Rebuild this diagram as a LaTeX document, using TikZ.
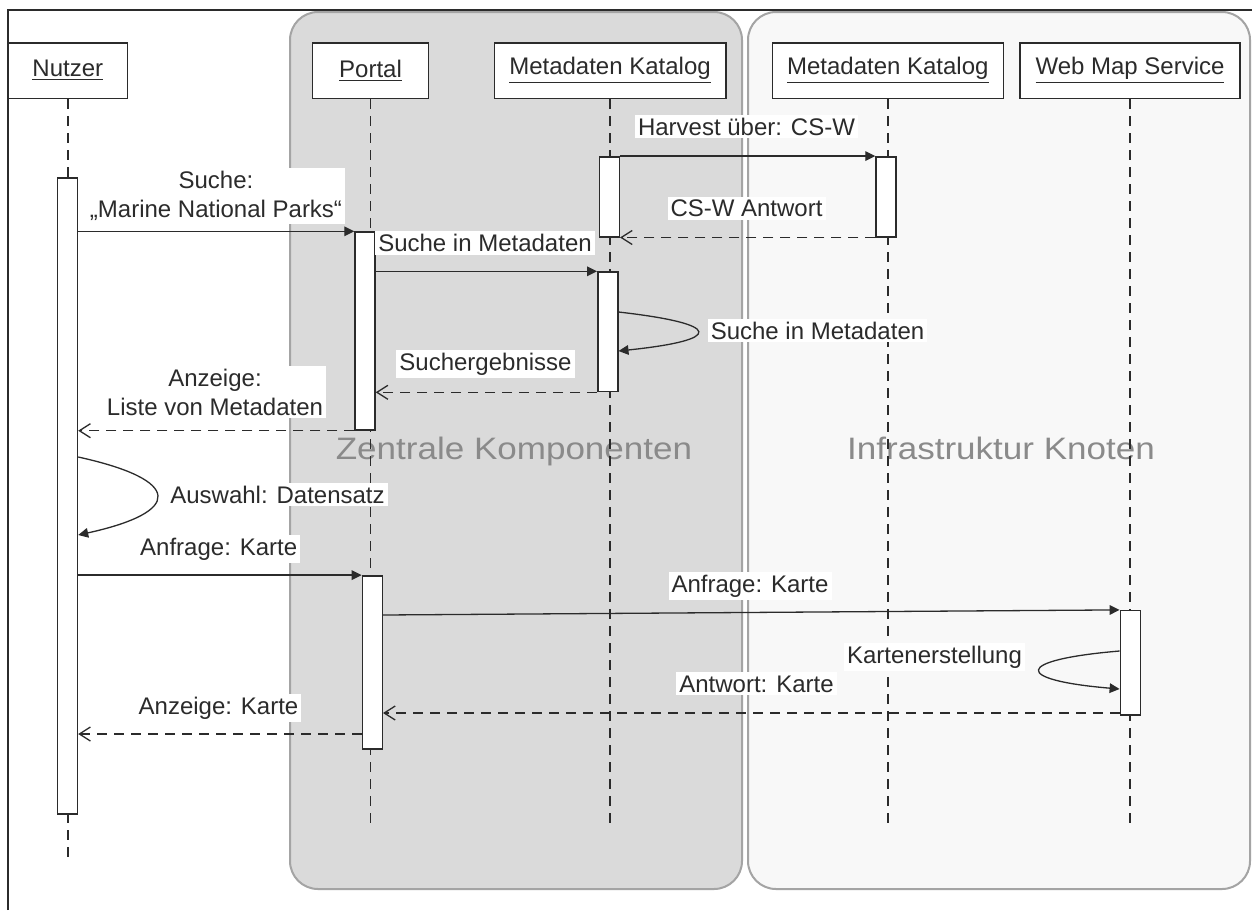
\documentclass[tikz,border=0pt]{standalone}
\usepackage{fontspec}
\usepackage{graphicx}
\setmainfont{Liberation Sans}
\usetikzlibrary{arrows.meta}
\definecolor{panelA}{HTML}{DADADA}
\definecolor{panelB}{HTML}{F8F8F8}
\definecolor{panelline}{HTML}{A4A4A4}
\definecolor{ink}{HTML}{2B2B2B}
\definecolor{bgtext}{HTML}{8A8A8A}
\begin{document}
\begin{tikzpicture}[x=0.5pt,y=-0.5pt,
  every node/.style={font=\fontsize{12}{14}\selectfont, text=ink},
  head/.style={draw=ink, line width=0.8pt, fill=white, minimum height=27.8pt, inner sep=0pt},
  lifeline/.style={draw=ink, line width=0.75pt, dash pattern=on 5pt off 3.5pt},
  actbar/.style={draw=ink, line width=0.7pt, fill=white, minimum width=10pt, inner sep=0pt},
  syncmsg/.style={draw=ink, line width=0.65pt, -{Triangle[length=5pt,width=4.8pt]}},
  retmsg/.style={draw=ink, line width=0.65pt, dash pattern=on 5pt off 3.5pt, -{Straight Barb[length=5.5pt,width=7pt]}},
  msglabel/.style={fill=white, inner sep=1.5pt},
  bglabel/.style={font=\fontsize{15.5}{18}\selectfont, text=bgtext, inner sep=0pt}]
\useasboundingbox (0,0) rectangle (1252,910);
\fill[white] (0,0) rectangle (1252,910);
% panels
\draw[panelline, fill=panelA, line width=1pt, rounded corners=14pt] (290,12) rectangle (742,889);
\draw[panelline, fill=panelB, line width=1pt, rounded corners=14pt] (748,12) rectangle (1250,889);
% frame
\draw[ink, line width=0.7pt] (8,910) -- (8,10) -- (1252,10);
% background labels
\node[bglabel, anchor=base] (zk) at (514,459) {\scalebox{1.13}[1]{Zentrale Komponenten}};
\node[bglabel, anchor=base] (ik) at (1001,459) {\scalebox{1.13}[1]{Infrastruktur Knoten}};
% headers
\node[head, minimum width=59.8pt] (nutzer) at (67.8,70.5) {\underline{Nutzer}};
\node[head, minimum width=58pt] (portal) at (370.5,70.5) {\underline{Portal}};
\node[head, minimum width=115.7pt] (mkz) at (610,70.5) {\underline{Metadaten Katalog}};
\node[head, minimum width=115.5pt] (mki) at (887.8,70.5) {\underline{Metadaten Katalog}};
\node[head, minimum width=110pt] (wms) at (1130,70.5) {\underline{Web Map Service}};
% lifeline ends
\coordinate (nutzerend) at (67.8,858);
\coordinate (portalend) at (370.5,826);
\coordinate (mkzend) at (610,826);
\coordinate (mkiend) at (887.8,826);
\coordinate (wmsend) at (1130,826);
\draw[lifeline] (nutzer.south) -- (nutzerend);
\draw[lifeline] (portal.south) -- (portalend);
\draw[lifeline] (mkz.south) -- (mkzend);
\draw[lifeline] (mki.south) -- (mkiend);
\draw[lifeline] (wms.south) -- (wmsend);
% activation bars
\node[actbar, minimum height=318pt] (nbar) at (67.5,496) {};
\node[actbar, minimum height=99pt] (pbar1) at (365,331) {};
\node[actbar, minimum height=86.5pt] (pbar2) at (372.3,662.3) {};
\node[actbar, minimum height=40pt] (mbar1) at (609.3,196.8) {};
\node[actbar, minimum height=59.8pt] (mbar2) at (607.8,331.8) {};
\node[actbar, minimum height=40pt] (kbar) at (886,196.8) {};
\node[actbar, minimum height=52.2pt] (wbar) at (1130.3,662.8) {};
% helper levels
\coordinate (y312) at (0,312);
\coordinate (y351) at (0,351);
\coordinate (y457) at (0,457);
\coordinate (y535) at (0,535);
\coordinate (y615) at (0,615);
\coordinate (y651) at (0,651);
\coordinate (y689) at (0,689);
\coordinate (y713) at (0,713);
\coordinate (y734) at (0,734);
% messages
\draw[syncmsg] (mbar1.north east) -- (kbar.north west);
\draw[retmsg] (kbar.south west) -- (mbar1.south east);
\draw[syncmsg] (nbar.east |- pbar1.north) -- (pbar1.north west);
\draw[syncmsg] (pbar1.east |- mbar2.north) -- (mbar2.north west);
\draw[syncmsg] (mbar2.east |- y312) .. controls (724,324) and (724,340) .. (mbar2.east |- y351);
\draw[retmsg] (mbar2.south west) -- (pbar1.east |- mbar2.south);
\draw[retmsg] (pbar1.south west) -- (nbar.east |- pbar1.south);
\draw[syncmsg] (nbar.east |- y457) .. controls (183,480) and (183,512) .. (nbar.east |- y535);
\draw[syncmsg] (nbar.east |- pbar2.north) -- (pbar2.north west);
\draw[syncmsg] (pbar2.east |- y615) -- (wbar.north west);
\draw[syncmsg] (wbar.west |- y651) .. controls (1013,660) and (1013,680) .. (wbar.west |- y689);
\draw[retmsg] (wbar.west |- y713) -- (pbar2.east |- y713);
\draw[retmsg] (pbar2.west |- y734) -- (nbar.east |- y734);
% labels
\node[msglabel, anchor=base] (lharvest) at (746.5,135) {Harvest über: CS-W};
\node[msglabel, anchor=base] (lantwort) at (746.5,216.5) {CS-W Antwort};
\node[msglabel, align=center, font=\fontsize{12}{14.5}\selectfont] (lsuche) at (216,196) {Suche:\\„Marine National Parks“};
\node[msglabel, anchor=base] (lsuchemeta) at (485,251.5) {Suche in Metadaten};
\node[msglabel, anchor=base] (lsucheself) at (817.5,339) {Suche in Metadaten};
\node[msglabel, anchor=base] (lergeb) at (485.5,370.5) {Suchergebnisse};
\node[msglabel, align=center, font=\fontsize{12}{14.5}\selectfont] (lliste) at (215,392) {Anzeige:\\Liste von Metadaten};
\node[msglabel, anchor=base] (lauswahl) at (277.5,503) {Auswahl: Datensatz};
\node[msglabel, anchor=base] (lanfrage1) at (218.7,555) {Anfrage: Karte};
\node[msglabel, anchor=base] (lanfrage2) at (750,592) {Anfrage: Karte};
\node[msglabel, anchor=base] (lkarten) at (934.5,663) {Kartenerstellung};
\node[msglabel, anchor=base] (lantwkarte) at (756.5,692) {Antwort: Karte};
\node[msglabel, anchor=base] (lanzkarte) at (218.5,714) {Anzeige: Karte};
\end{tikzpicture}
\end{document}
